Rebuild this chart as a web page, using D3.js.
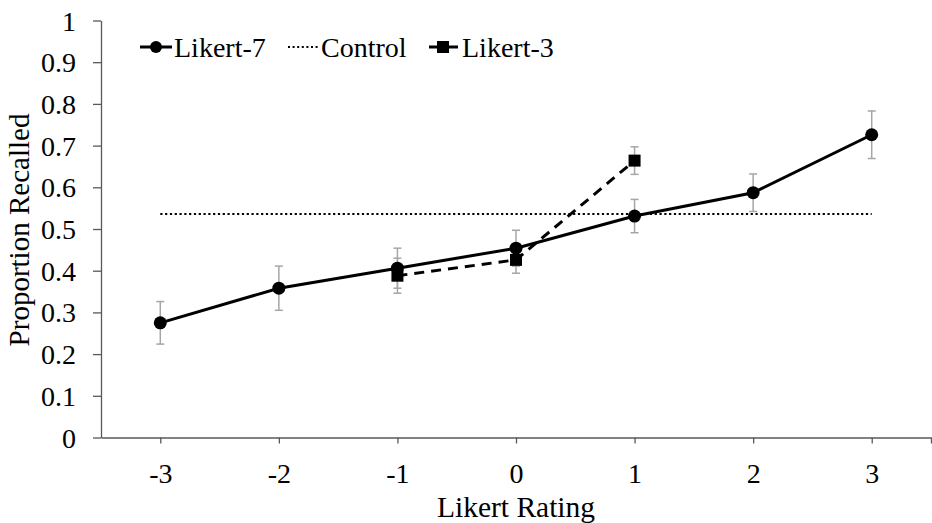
<!DOCTYPE html>
<html><head><meta charset="utf-8">
<script src="https://cdn.jsdelivr.net/npm/d3@7"></script>
<style>body{margin:0;background:#fff}svg{display:block}</style>
</head><body><svg id="c" width="932" height="523"></svg>
<script>
const ratings = [-3,-2,-1,0,1,2,3];
const likert7 = [0.275,0.358,0.406,0.454,0.531,0.587,0.726];
const likert7Err = [0.051,0.053,0.048,0.043,0.040,0.045,0.057];
const likert3Ratings = [-1,0,1];
const likert3 = [0.388,0.426,0.664];
const likert3Err = [0.042,0.032,0.033];
const control = 0.536;
const yTicks = [0,0.1,0.2,0.3,0.4,0.5,0.6,0.7,0.8,0.9,1];

const FONT = "'Times New Roman', 'Liberation Serif', Tinos, Times, 'DejaVu Serif', serif";
const svg = d3.select("#c");
const x = d3.scaleLinear().domain([-3.5,3.5]).range([101,931]);
const y = d3.scaleLinear().domain([0,1]).range([437.5,20.5]);

const ya = svg.append("g").attr("transform","translate(101,0)")
  .call(d3.axisLeft(y).tickValues(yTicks).tickFormat(d=>String(+d.toFixed(1))).tickSize(8).tickSizeOuter(0));
ya.attr("font-family",FONT);
ya.select(".domain").attr("stroke","#595959").attr("stroke-width",1.3);
ya.selectAll(".tick line").attr("stroke","#595959").attr("stroke-width",1.3);
ya.selectAll("text").attr("font-size",28).attr("x",-25).attr("dy","0.34em").attr("font-family",FONT).attr("fill","#000");

const xa = svg.append("g").attr("transform","translate(0,437.5)")
  .call(d3.axisBottom(x).tickValues(ratings.concat([3.5])).tickFormat(d=>d===3.5?"":d).tickSize(6).tickSizeOuter(0));
xa.attr("font-family",FONT);
xa.select(".domain").attr("stroke","#595959").attr("stroke-width",1.3);
xa.selectAll(".tick line").attr("stroke","#595959").attr("stroke-width",1.3);
xa.selectAll("text").attr("font-size",28).attr("y",26).attr("dy","0.71em").attr("font-family",FONT).attr("fill","#000");

svg.append("text").attr("x",516).attr("y",517).attr("text-anchor","middle").attr("font-size",29.5).attr("font-family",FONT).text("Likert Rating");
svg.append("text").attr("transform","translate(29,230) rotate(-90)").attr("text-anchor","middle").attr("font-size",29).attr("font-family",FONT).text("Proportion Recalled");

svg.append("line").attr("x1",x(-3)).attr("x2",x(3)).attr("y1",y(control)).attr("y2",y(control))
  .attr("stroke","#000").attr("stroke-width",2.2).attr("stroke-dasharray","2.2,2.6");

function errBars(xs, vals, errs){
  const g = svg.append("g").attr("stroke","#a6a6a6").attr("stroke-width",1.5);
  xs.forEach((r,i)=>{
    const cx=x(r), t=y(vals[i]+errs[i]), b=y(vals[i]-errs[i]);
    g.append("line").attr("x1",cx).attr("x2",cx).attr("y1",t).attr("y2",b);
    g.append("line").attr("x1",cx-4).attr("x2",cx+4).attr("y1",t).attr("y2",t);
    g.append("line").attr("x1",cx-4).attr("x2",cx+4).attr("y1",b).attr("y2",b);
  });
}
errBars(ratings, likert7, likert7Err);
errBars(likert3Ratings, likert3, likert3Err);

const line = d3.line().x(d=>x(d[0])).y(d=>y(d[1]));
svg.append("path").datum(ratings.map((r,i)=>[r,likert7[i]])).attr("d",line)
  .attr("fill","none").attr("stroke","#000").attr("stroke-width",3);
svg.append("path").datum(likert3Ratings.map((r,i)=>[r,likert3[i]])).attr("d",line)
  .attr("fill","none").attr("stroke","#000").attr("stroke-width",3).attr("stroke-dasharray","10,7");

svg.append("g").selectAll("circle").data(ratings).join("circle")
  .attr("cx",d=>x(d)).attr("cy",(d,i)=>y(likert7[i])).attr("r",6.5).attr("fill","#000");
svg.append("g").selectAll("rect").data(likert3Ratings).join("rect")
  .attr("x",d=>x(d)-6).attr("y",(d,i)=>y(likert3[i])-6).attr("width",12).attr("height",12).attr("fill","#000");

const lg = svg.append("g").attr("font-family",FONT).attr("font-size",28);
lg.append("line").attr("x1",140).attr("x2",172).attr("y1",47).attr("y2",47).attr("stroke","#000").attr("stroke-width",3);
lg.append("circle").attr("cx",156).attr("cy",47).attr("r",6).attr("fill","#000");
lg.append("text").attr("x",174).attr("y",47).attr("dy","0.34em").text("Likert-7");
lg.append("line").attr("x1",288).attr("x2",318).attr("y1",47).attr("y2",47).attr("stroke","#000").attr("stroke-width",2).attr("stroke-dasharray","2,2.6");
lg.append("text").attr("x",321).attr("y",47).attr("dy","0.34em").text("Control");
lg.append("line").attr("x1",429).attr("x2",458).attr("y1",47).attr("y2",47).attr("stroke","#000").attr("stroke-width",3);
lg.append("rect").attr("x",437).attr("y",41).attr("width",12).attr("height",12).attr("fill","#000");
lg.append("text").attr("x",462).attr("y",47).attr("dy","0.34em").text("Likert-3");
</script></body></html>
